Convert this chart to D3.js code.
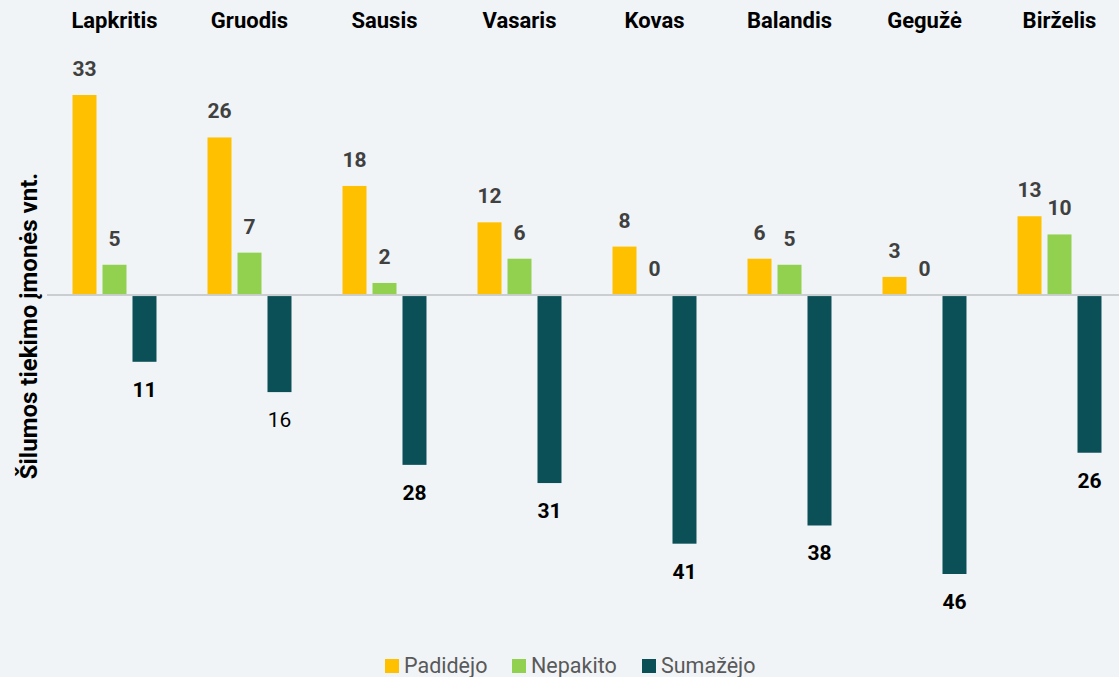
<!DOCTYPE html>
<html>
<head>
<meta charset="utf-8">
<style>
    body {
        margin: 0;
        background: #f0f4f7;
        font-family: Roboto, "Noto Sans", Arial, sans-serif;
    }
    svg {
        display: block;
    }
</style>
</head>
<body>
<svg width="1119" height="677"></svg>

<script src="https://d3js.org/d3.v7.min.js"></script>
<script>
    // months along the top
    let months = ["Lapkritis", "Gruodis", "Sausis", "Vasaris", "Kovas", "Balandis", "Gegužė", "Birželis"]
    let seriesNames = ["Padidėjo", "Nepakito", "Sumažėjo"]
    let seriesColors = ["#ffc000", "#92d050", "#0b4f57"]

    // number of companies per month (decrease shown below zero)
    let padidejo = [33, 26, 18, 12, 8, 6, 3, 13]
    let nepakito = [5, 7, 2, 6, 0, 5, 0, 10]
    let sumazejo = [11, 16, 28, 31, 41, 38, 46, 26]

    // the one label that is not bold in the original
    let plainLabels = ["Gruodis-Sumažėjo"]

    let width = 1119
    let height = 677

    let data = months.map((m, i) => ({
        month: m,
        values: [
            { key: seriesNames[0], v: padidejo[i] },
            { key: seriesNames[1], v: nepakito[i] },
            { key: seriesNames[2], v: -sumazejo[i] }
        ]
    }))

    let svg = d3.select("svg")

    let x0 = d3.scaleBand()
        .domain(months)
        .range([47, 1127])
        .paddingInner(0.378)
        .paddingOuter(0.189)

    let x1 = d3.scaleBand()
        .domain(seriesNames)
        .range([0, x0.bandwidth()])
        .paddingInner(0.2)
        .paddingOuter(0)

    let y = d3.scaleLinear()
        .domain([-46, 33])
        .range([574, 95])

    let color = d3.scaleOrdinal()
        .domain(seriesNames)
        .range(seriesColors)

    // zero line
    svg.append("line")
        .attr("x1", 47)
        .attr("x2", width)
        .attr("y1", y(0))
        .attr("y2", y(0))
        .attr("stroke", "#cbced1")
        .attr("stroke-width", 2)

    // month names on top
    svg.append("g")
        .selectAll("text")
        .data(months)
        .join("text")
        .attr("x", d => x0(d) + x0.bandwidth() / 2)
        .attr("y", 28)
        .attr("text-anchor", "middle")
        .style("font-size", "22px")
        .style("font-weight", "bold")
        .style("fill", "#000")
        .text(d => d)

    let groups = svg.append("g")
        .selectAll("g")
        .data(data)
        .join("g")
        .attr("transform", d => `translate(${x0(d.month)},0)`)

    groups.selectAll("rect")
        .data(d => d.values)
        .join("rect")
        .attr("x", d => x1(d.key))
        .attr("width", x1.bandwidth())
        .attr("y", d => d.v >= 0 ? y(d.v) : y(0) + 1)
        .attr("height", d => d.v >= 0 ? y(0) - 1 - y(d.v) : y(d.v) - y(0) - 1)
        .attr("fill", d => color(d.key))

    // value labels
    groups.selectAll("text")
        .data(d => d.values.map(v => ({ ...v, month: d.month })))
        .join("text")
        .attr("x", d => x1(d.key) + x1.bandwidth() / 2)
        .attr("y", d => d.v >= 0 ? y(d.v) - 19 : y(d.v) + 35)
        .attr("text-anchor", "middle")
        .style("font-size", "21px")
        .style("font-weight", d => plainLabels.includes(d.month + "-" + d.key) ? "normal" : "bold")
        .style("fill", d => d.v >= 0 ? "#404040" : "#000")
        .text(d => Math.abs(d.v))

    // y axis title
    svg.append("text")
        .attr("transform", "translate(37,326) rotate(-90)")
        .attr("text-anchor", "middle")
        .style("font-size", "24px")
        .style("font-weight", "bold")
        .style("fill", "#000")
        .text("Šilumos tiekimo įmonės vnt.")

    // legend
    let legendX = [385, 512, 642]
    let legend = svg.append("g")
        .selectAll("g")
        .data(seriesNames)
        .join("g")
        .attr("transform", (d, i) => `translate(${legendX[i]},659)`)

    legend.append("rect")
        .attr("width", 14)
        .attr("height", 14)
        .attr("fill", d => color(d))

    legend.append("text")
        .attr("x", 19)
        .attr("y", 14)
        .style("font-size", "21.5px")
        .style("fill", "#595959")
        .text(d => d)
</script>
</body>
</html>
